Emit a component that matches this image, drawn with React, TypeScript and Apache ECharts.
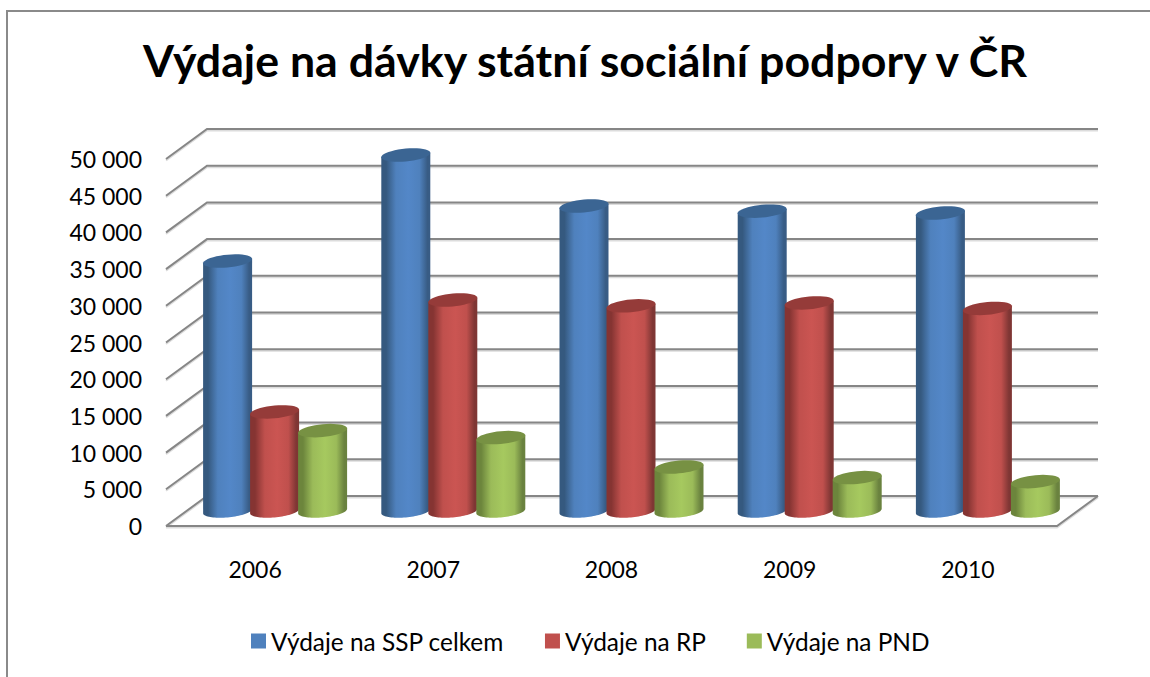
import React, { useEffect, useRef } from "react";
import * as echarts from "echarts";

const title = "Výdaje na dávky státní sociální podpory v ČR";
const years = ["2006", "2007", "2008", "2009", "2010"];
const seriesNames = ["Výdaje na SSP celkem", "Výdaje na RP", "Výdaje na PND"];
const ssp = [34050, 48500, 41550, 40850, 40600];
const rp = [13500, 28750, 27950, 28350, 27600];
const pnd = [10950, 10000, 6000, 4550, 4000];
const wallTicks = [0, 5000, 10000, 15000, 20000, 25000, 30000, 35000, 40000, 45000, 50000];

const FONT = "Lato, Carlito, sans-serif";
const DEPTH_X = 41;
const DEPTH_Y = -30;
const LINE = "#868686";
const LINE_SOFT = "#dcdcdc";

const palettes = [
  { main: "#4f81bd", edgeL: "#35597f", edgeR: "#385c85", light: "#5387c8", top: "#3b6593" },
  { main: "#c0504d", edgeL: "#853432", edgeR: "#7f3634", light: "#cb5552", top: "#953b39" },
  { main: "#9bbb59", edgeL: "#6c853c", edgeR: "#6a823f", light: "#a6c95f", top: "#779143" },
];
const barOffsets = [-27.5, 19.5, 67.5];

function ellipsePts(cx: number, cy: number, a: number, b: number, s: number, from: number, to: number) {
  const pts: number[][] = [];
  const n = 40;
  for (let i = 0; i <= n; i++) {
    const t = from + ((to - from) * i) / n;
    pts.push([cx + a * Math.cos(t), cy + b * Math.sin(t) - s * Math.cos(t)]);
  }
  return pts;
}

function cylinder(seriesIdx: number) {
  const p = palettes[seriesIdx];
  const grad = new echarts.graphic.LinearGradient(0, 0, 1, 0, [
    { offset: 0, color: p.edgeL },
    { offset: 0.1, color: p.edgeL },
    { offset: 0.3, color: p.main },
    { offset: 0.55, color: p.light },
    { offset: 0.78, color: p.main },
    { offset: 0.94, color: p.edgeR },
    { offset: 1, color: p.edgeR },
  ]);
  return (params: any, api: any) => {
    const top = api.coord([api.value(0), api.value(1)]);
    const base = api.coord([api.value(0), 0]);
    const cx = top[0] + barOffsets[seriesIdx];
    const topY = top[1] + DEPTH_Y / 2;
    const baseY = base[1] + DEPTH_Y / 2;
    const a = 24.5, b = 6.4, s = 2.2;
    const lower = ellipsePts(cx, baseY, a, b, s, 0, Math.PI);
    const body = [[cx + a, topY - s], ...lower, [cx - a, topY + s]];
    return {
      type: "group",
      children: [
        { type: "polygon", shape: { points: body }, style: { fill: grad } },
        {
          type: "polygon",
          shape: { points: ellipsePts(cx, topY, a, b, s, 0, Math.PI * 2) },
          style: { fill: p.top },
        },
      ],
    };
  };
}

function renderWall(params: any, api: any) {
  const v = api.value(1);
  const c0 = api.coord([0, v]);
  const band = api.size([1, 0])[0];
  const left = c0[0] - band / 2;
  const right = left + band * years.length;
  const y = c0[1];
  const line = (points: number[][]) => [
    {
      type: "polyline",
      shape: { points: points.map((q) => [q[0], q[1] + 1.5]) },
      style: { stroke: LINE_SOFT, lineWidth: 2, fill: "none" },
    },
    { type: "polyline", shape: { points }, style: { stroke: LINE, lineWidth: 2, fill: "none" } },
  ];
  const children: any[] = line([[left, y], [left + DEPTH_X, y + DEPTH_Y], [right + DEPTH_X, y + DEPTH_Y]]);
  if (v === 0) {
    children.push(...line([[left, y], [right, y], [right + DEPTH_X, y + DEPTH_Y]]));
  }
  return { type: "group", children };
}

export default function App() {
  const ref = useRef<HTMLDivElement>(null);
  useEffect(() => {
    document.body.style.margin = "0";
    const chart = echarts.init(ref.current!, undefined, { renderer: "svg" });
    const values = [ssp, rp, pnd];
    chart.setOption({
      animation: false,
      backgroundColor: "#ffffff",
      textStyle: { fontFamily: FONT },
      title: {
        text: title,
        left: 580,
        textAlign: "center",
        top: 32,
        textStyle: { fontFamily: FONT, fontSize: 44.7, fontWeight: "bold", color: "#000000" },
      },
      legend: {
        data: seriesNames,
        left: 251,
        top: 629,
        padding: 0,
        itemWidth: 15,
        itemHeight: 15,
        itemGap: 41,
        icon: "rect",
        textStyle: { fontFamily: FONT, fontSize: 24.4, color: "#000000" },
      },
      grid: { left: 166, top: 159, width: 891, height: 367 },
      xAxis: {
        type: "category",
        data: years,
        axisLine: { show: false },
        axisTick: { show: false },
        axisLabel: { fontFamily: FONT, fontSize: 23, color: "#000000", margin: 31 },
      },
      yAxis: {
        type: "value",
        min: 0,
        max: 50000,
        interval: 5000,
        axisLine: { show: false },
        axisTick: { show: false },
        splitLine: { show: false },
        axisLabel: {
          fontFamily: FONT,
          fontSize: 23,
          color: "#000000",
          margin: 24,
          formatter: (v: number) => String(v).replace(/\B(?=(\d{3})+$)/g, " "),
        },
      },
      graphic: [
        {
          type: "polyline",
          shape: { points: [[7, 677], [7, 11], [1150, 11]] },
          style: { stroke: "#8a8a8a", lineWidth: 2, fill: "none" },
        },
      ],
      series: [
        {
          type: "custom",
          name: "wall",
          silent: true,
          clip: false,
          renderItem: renderWall,
          encode: { x: 0, y: 1 },
          data: wallTicks.map((v) => [0, v]),
          z: 1,
        },
        ...seriesNames.map((name, i) => ({
          type: "custom",
          name,
          clip: false,
          renderItem: cylinder(i),
          encode: { x: 0, y: 1 },
          itemStyle: { color: palettes[i].main },
          data: values[i].map((v, k) => [k, v]),
          z: 2 + i,
        })),
      ],
    });
    return () => chart.dispose();
  }, []);
  return <div ref={ref} style={{ position: "fixed", left: 0, top: 0, width: 1150, height: 677 }} />;
}
